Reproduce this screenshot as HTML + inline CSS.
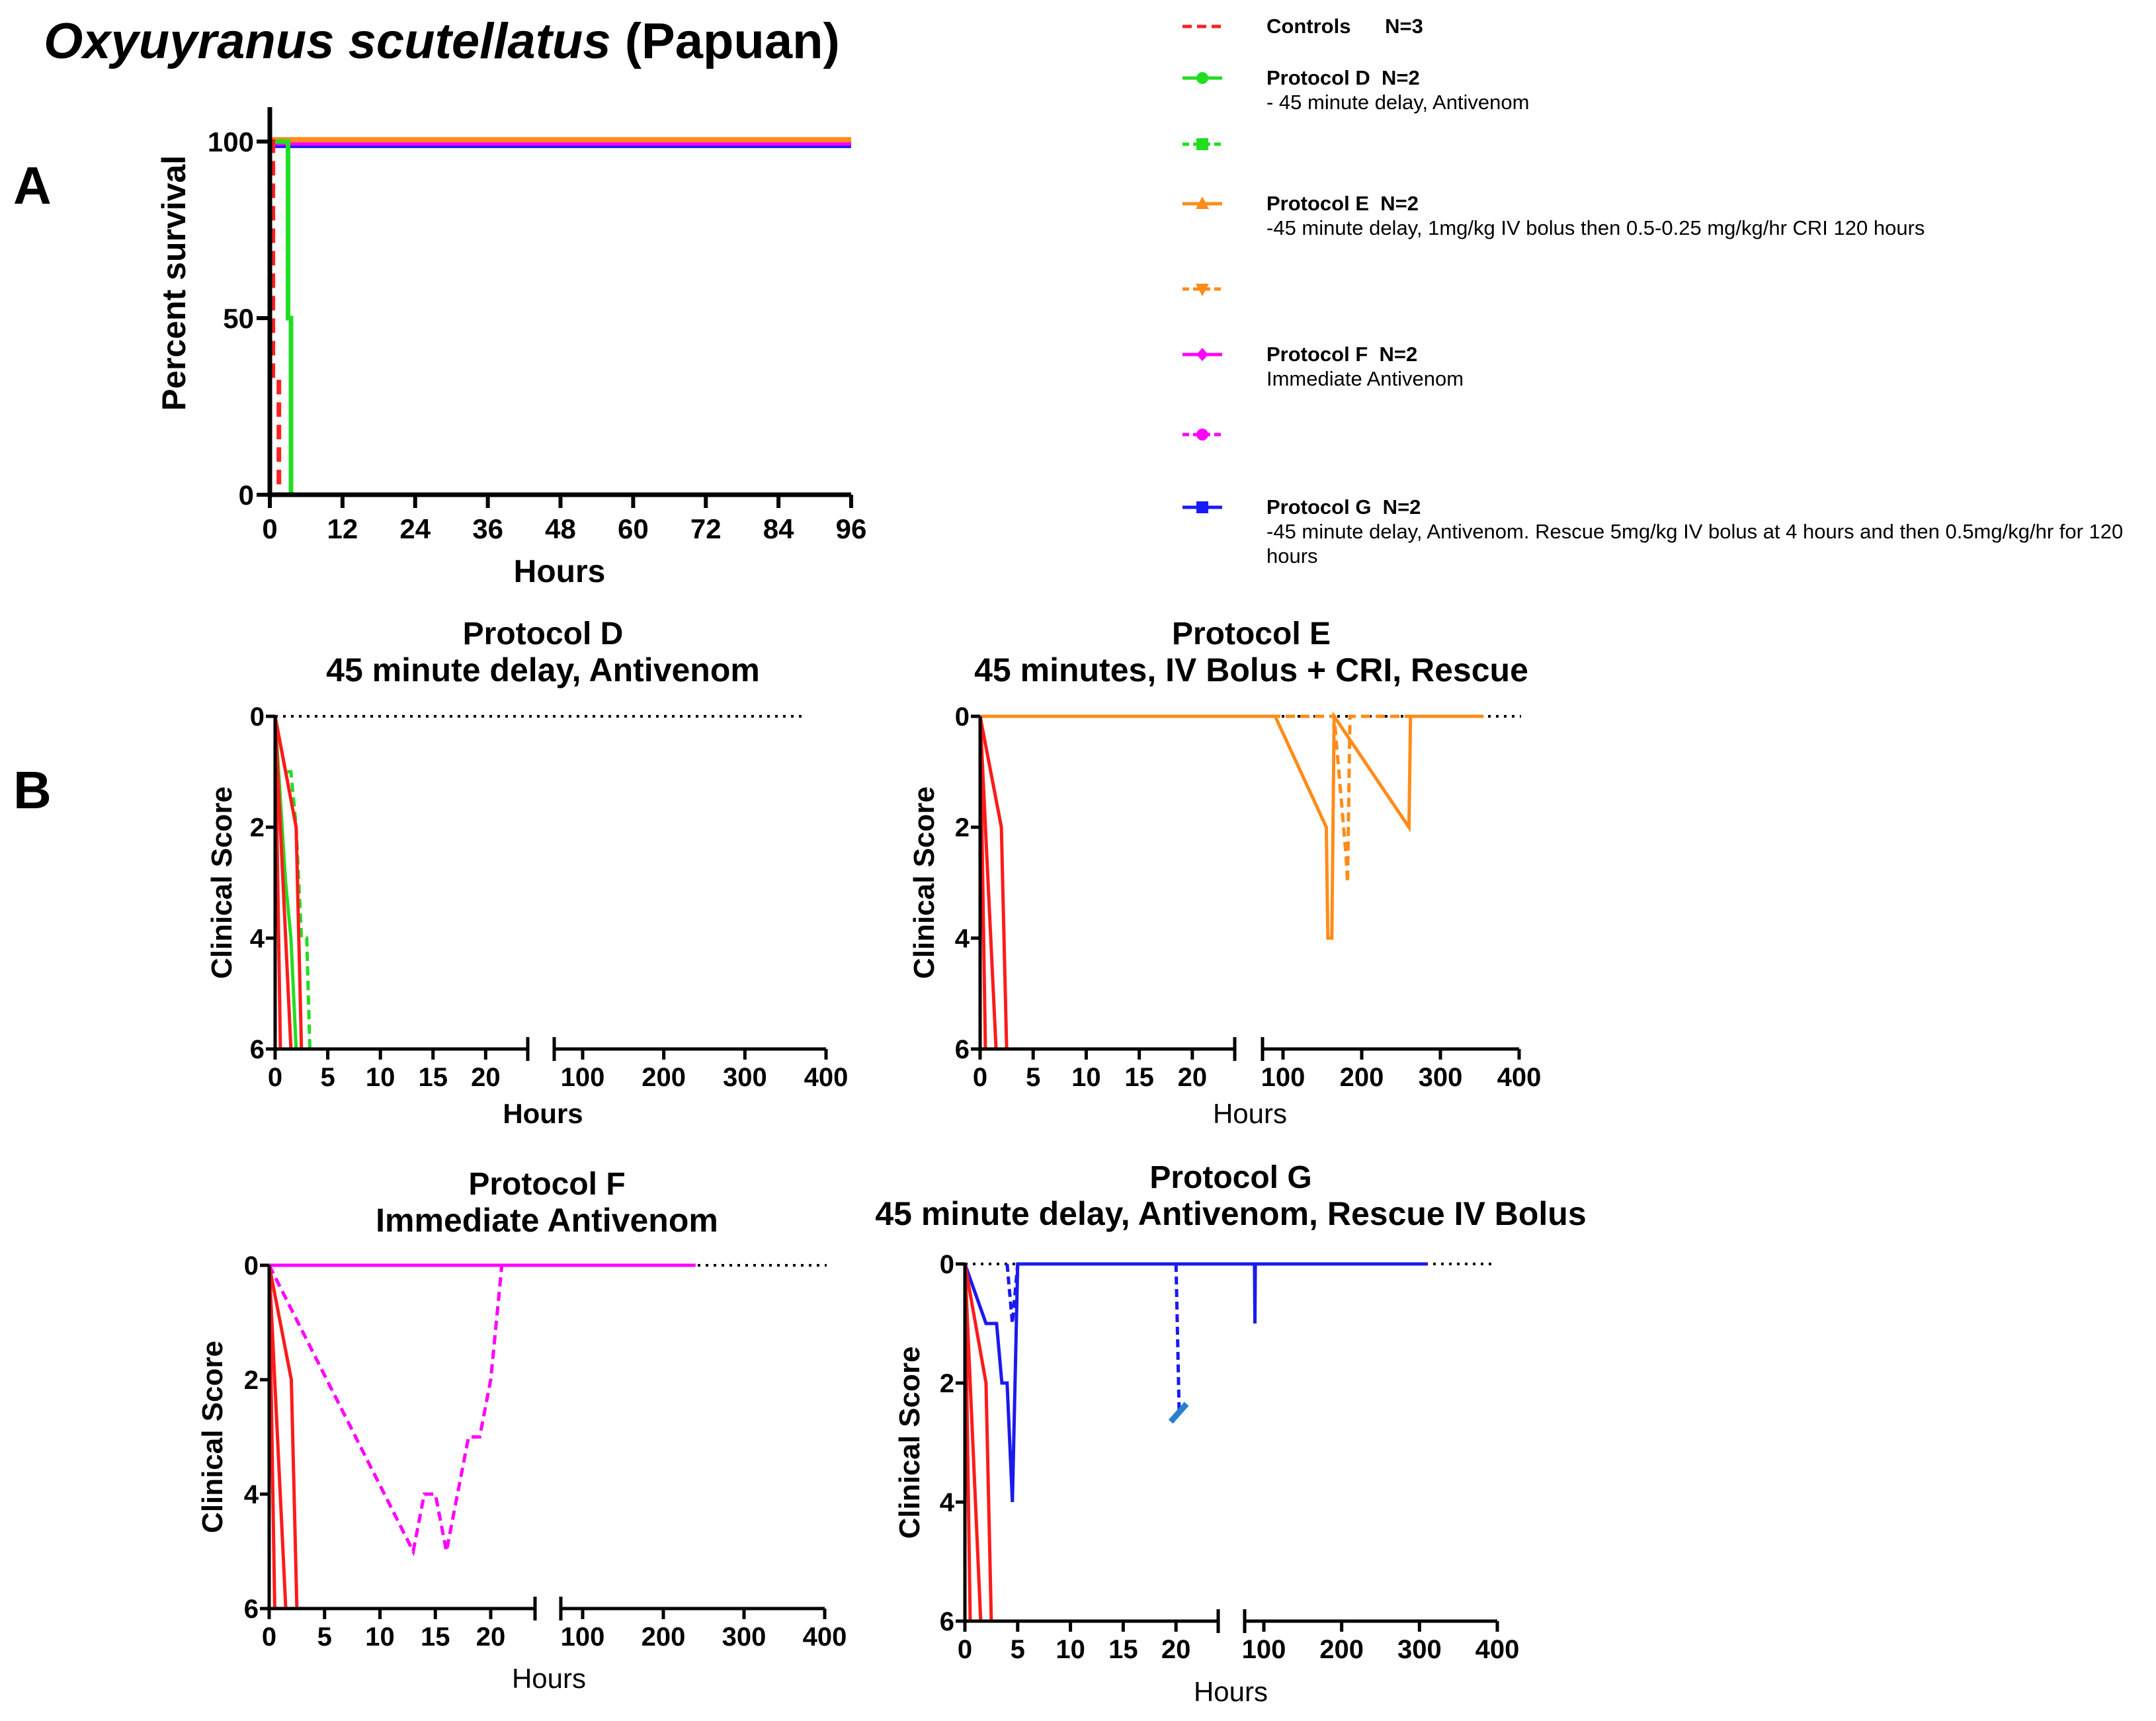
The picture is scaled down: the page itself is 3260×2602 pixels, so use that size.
<!DOCTYPE html>
<html><head><meta charset="utf-8"><style>
html,body{margin:0;padding:0;background:#fff}
svg{display:block}
text{font-family:"Liberation Sans",Arial,sans-serif;white-space:pre}
</style></head><body>
<svg id="fig" width="3260" height="2602" viewBox="0 0 3260 2602" xmlns="http://www.w3.org/2000/svg">
<text x="668" y="88" font-size="76" font-weight="bold" text-anchor="middle"><tspan font-style="italic">Oxyuyranus scutellatus</tspan> (Papuan)</text>
<text x="20" y="308" font-size="80" font-weight="bold">A</text>
<text x="20" y="1222" font-size="80" font-weight="bold">B</text>
<g id="panelA"></g>
<g id="legend"></g>
<g id="pD"></g>
<g id="pE"></g>
<g id="pF"></g>
<g id="pG"></g>
</svg>
<script>
// ---------- data ----------
const survTicksX = [0,12,24,36,48,60,72,84,96];
const survTicksY = [0,50,100];
const survControlsX = [0,0.5,0.5,1.5,1.5];
const survControlsY = [100,100,33,33,0];
const survDX = [0,3,3,3.5,3.5];
const survDY = [100,100,50,50,0];
const survEX = [0,96]; const survEY = [100.5,100.5];
const survFX = [0,96]; const survFY = [99.5,99.5];
const survGX = [0,96]; const survGY = [98.8,98.8];

const scoreTicksY = [0,2,4,6];
const leftTicks = [0,5,10,15,20];
const rightTicks = [100,200,300,400];

const ctrl1X=[0,0.5], ctrl1Y=[0,6];
const ctrl2X=[0,1.5], ctrl2Y=[0,6];
const ctrl3X=[0,2,2.5], ctrl3Y=[0,2,6];

const dDashX=[0,1,1.5,2,2.5,3,3.3], dDashY=[0,1,1,2,4,4,6];
const dSolidX=[0,1,1.5,2], dSolidY=[0,3,4,6];

const eSolidX=[0,24,75,90,155,157,162,165,260,262,355], eSolidY=[0,0,0,0,2,4,4,0,2,0,0];
const eDashX=[0,24,75,165,180,182,185,260], eDashY=[0,0,0,0,2.5,3,0,0];

const fSolidX=[0,24,75,240], fSolidY=[0,0,0,0];
const fDashX=[0,13,14,15,16,18,19,20,21], fDashY=[0,5,4,4,5,3,3,2,0];

const gSolidX=[0,2,3,3.5,4,4.5,5,24,75,88,88.5,89,310], gSolidY=[0,1,1,2,2,4,0,0,0,0,1,0,0];
const gDash1X=[4,4.5,5], gDash1Y=[0,1,0];
const gDash2X=[20,20.3], gDash2Y=[0,2.5];
const gMarkX=[19.5,21], gMarkY=[2.65,2.35];

// ---------- helpers ----------
const NS="http://www.w3.org/2000/svg";
function mk(tag,attrs,parent){const e=document.createElementNS(NS,tag);for(const k in attrs)e.setAttribute(k,attrs[k]);parent.appendChild(e);return e;}
function txt(parent,x,y,s,size,anchor,name,extra){const t=mk('text',Object.assign({x:x,y:y,'font-size':size,'font-weight':'bold','text-anchor':anchor||'middle'},extra||{}),parent);t.textContent=s;


return t;}
function poly(parent,xs,ys,sx,sy,color,width,dash,name){const pts=xs.map((x,i)=>sx(x).toFixed(1)+','+sy(ys[i]).toFixed(1)).join(' ');
const p=mk('polyline',{points:pts,fill:'none',stroke:color,'stroke-width':width,'stroke-linejoin':'miter'},parent);if(dash)p.setAttribute('stroke-dasharray',dash);


return p;}

// ---------- panel A ----------
(function(){
 const g=document.getElementById('panelA');
 const X0=408,X1=1287,Y0=748,Y100=214;
 const sx=v=>X0+(X1-X0)*v/96, sy=v=>Y0-(Y0-Y100)*v/100;
 poly(g,survGX,survGY,sx,sy,'#1a1aff',7,null,'survival-protocol-g');
 poly(g,survFX,survFY,sx,sy,'#ff00ff',7,null,'survival-protocol-f');
 poly(g,survEX,survEY,sx,sy,'#ff8c1a',8,null,'survival-protocol-e');
 poly(g,survDX,survDY,sx,sy,'#22dd22',7,null,'survival-protocol-d');
 poly(g,survControlsX,survControlsY,sx,sy,'#ff2020',7,'22,12','survival-controls');
 const ax=mk('path',{d:`M${X0},162 L${X0},${Y0} L${X1},${Y0}`,fill:'none',stroke:'#000','stroke-width':7},g);
 
 survTicksX.forEach(v=>{mk('line',{x1:sx(v),x2:sx(v),y1:Y0,y2:Y0+20,stroke:'#000','stroke-width':6},g);txt(g,sx(v),Y0+66,String(v),42,'middle','x-tick-label');});
 survTicksY.forEach(v=>{mk('line',{x1:X0-20,x2:X0,y1:sy(v),y2:sy(v),stroke:'#000','stroke-width':6},g);txt(g,X0-24,sy(v)+15,String(v),42,'end','y-tick-label');});
 txt(g,846,880,'Hours',48,'middle','x-axis-title');
 txt(g,280,428,'Percent survival',50,'middle','y-axis-title',{transform:'rotate(-90 280 428)'});
})();

// ---------- legend ----------
(function(){
 const g=document.getElementById('legend');
 const items=[
  {y:40,c:'#ff2020',dash:'14,8',t:['Controls      N=3']},
  {y:118,c:'#22dd22',dash:null,m:'circle',t:['Protocol D  N=2','- 45 minute delay, Antivenom']},
  {y:218,c:'#22dd22',dash:'10,6',m:'square',t:[]},
  {y:308,c:'#ff8c1a',dash:null,m:'tri',t:['Protocol E  N=2','-45 minute delay, 1mg/kg IV bolus then 0.5-0.25 mg/kg/hr CRI 120 hours']},
  {y:437,c:'#ff8c1a',dash:'10,6',m:'itri',t:[]},
  {y:536,c:'#ff00ff',dash:null,m:'diamond',t:['Protocol F  N=2','Immediate Antivenom']},
  {y:657,c:'#ff00ff',dash:'10,6',m:'circle',t:[]},
  {y:767,c:'#1a1aff',dash:null,m:'square',t:['Protocol G  N=2','-45 minute delay, Antivenom. Rescue 5mg/kg IV bolus at 4 hours and then 0.5mg/kg/hr for 120','hours']}
 ];
 items.forEach((it,i)=>{
  const l=mk('line',{x1:1788,x2:1848,y1:it.y,y2:it.y,stroke:it.c,'stroke-width':5},g);
  if(it.dash)l.setAttribute('stroke-dasharray',it.dash);
  
  const cx=1818,cy=it.y;
  if(it.m==='circle')mk('circle',{cx:cx,cy:cy,r:9,fill:it.c},g);
  if(it.m==='square')mk('rect',{x:cx-9,y:cy-9,width:18,height:18,fill:it.c},g);
  if(it.m==='tri')mk('polygon',{points:`${cx},${cy-11} ${cx+10},${cy+8} ${cx-10},${cy+8}`,fill:it.c},g);
  if(it.m==='itri')mk('polygon',{points:`${cx},${cy+11} ${cx+10},${cy-8} ${cx-10},${cy-8}`,fill:it.c},g);
  if(it.m==='diamond')mk('polygon',{points:`${cx},${cy-10} ${cx+9},${cy} ${cx},${cy+10} ${cx-9},${cy}`,fill:it.c},g);
  it.t.forEach((s,j)=>{txt(g,1915,it.y+10+j*37,s,j===0?31:31,'start','legend-text',j===0?{}:{'font-weight':'normal'});});
 });
})();

// ---------- score panels ----------
function scorePanel(id,cfg,series){
 const g=document.getElementById(id);
 const {x0,lEnd,rStart,r100,r400,y0,y6}=cfg;
 const lScale=(lEnd-x0)/24, rScale=(r400-r100)/300, rDomStart=100-(r100-rStart)/rScale;
 const sx=v=>v<=24?x0+v*lScale:(v<rDomStart?rStart:r100+(v-100)*rScale);
 const sy=v=>y0+(y6-y0)*v/6;
 const d=mk('line',{x1:x0,x2:cfg.dotEnd,y1:y0,y2:y0,stroke:'#000','stroke-width':4,'stroke-dasharray':'4,8'},g);
 
 series.forEach(s=>poly(g,s.x,s.y,sx,sy,s.c,s.w||5,s.d,s.n));
 const ax=mk('path',{d:`M${x0},${y0} L${x0},${y6} L${lEnd},${y6} M${lEnd},${y6-18} L${lEnd},${y6+18} M${rStart},${y6-18} L${rStart},${y6+18} M${rStart},${y6} L${r400},${y6}`,fill:'none',stroke:'#000','stroke-width':5},g);
 
 leftTicks.forEach(v=>{mk('line',{x1:sx(v),x2:sx(v),y1:y6,y2:y6+16,stroke:'#000','stroke-width':5},g);txt(g,sx(v),y6+56,String(v),40,'middle','x-tick-label');});
 rightTicks.forEach(v=>{mk('line',{x1:sx(v),x2:sx(v),y1:y6,y2:y6+16,stroke:'#000','stroke-width':5},g);txt(g,sx(v),y6+56,String(v),40,'middle','x-tick-label');});
 scoreTicksY.forEach(v=>{mk('line',{x1:x0-14,x2:x0,y1:sy(v),y2:sy(v),stroke:'#000','stroke-width':5},g);txt(g,x0-16,sy(v)+14,String(v),40,'end','y-tick-label');});
 txt(g,cfg.tx,cfg.t1y,cfg.t1,48,'middle','chart-title');
 txt(g,cfg.tx,cfg.t1y+56,cfg.t2,50,'middle','chart-subtitle');
 txt(g,cfg.hx,cfg.hy,'Hours',42,'middle','x-axis-title',cfg.hBold?{}:{'font-weight':'normal'});
 txt(g,cfg.cx,(y0+y6)/2,'Clinical Score',44,'middle','y-axis-title',{transform:`rotate(-90 ${cfg.cx} ${(y0+y6)/2})`});
}
const red='#ff1a1a';
const ctrls=[{x:ctrl1X,y:ctrl1Y,c:red,n:'controls-line-1'},{x:ctrl2X,y:ctrl2Y,c:red,n:'controls-line-2'},{x:ctrl3X,y:ctrl3Y,c:red,n:'controls-line-3'}];
scorePanel('pD',{x0:416,lEnd:798,rStart:838,r100:881,r400:1249,y0:1083,y6:1586,dotEnd:1220,tx:821,t1y:974,t1:'Protocol D',t2:'45 minute delay, Antivenom',hx:821,hy:1698,hBold:true,cx:350},
 [{x:dDashX,y:dDashY,c:'#22dd22',d:'14,8',n:'protocol-d-dashed'},{x:dSolidX,y:dSolidY,c:'#22dd22',n:'protocol-d-solid'}].concat(ctrls));
scorePanel('pE',{x0:1482,lEnd:1867,rStart:1909,r100:1940,r400:2297,y0:1083,y6:1586,dotEnd:2300,tx:1892,t1y:974,t1:'Protocol E',t2:'45 minutes, IV Bolus + CRI, Rescue',hx:1890,hy:1698,cx:1412},
 [{x:eDashX,y:eDashY,c:'#ff8c1a',d:'14,8',n:'protocol-e-dashed'},{x:eSolidX,y:eSolidY,c:'#ff8c1a',n:'protocol-e-solid'}].concat(ctrls));
scorePanel('pF',{x0:407,lEnd:809,rStart:848,r100:881,r400:1247,y0:1913,y6:2432,dotEnd:1250,tx:827,t1y:1806,t1:'Protocol F',t2:'Immediate Antivenom',hx:830,hy:2552,cx:336},
 [{x:fSolidX,y:fSolidY,c:'#ff00ff',n:'protocol-f-solid'},{x:fDashX,y:fDashY,c:'#ff00ff',d:'14,8',n:'protocol-f-dashed'}].concat(ctrls));
scorePanel('pG',{x0:1459,lEnd:1842,rStart:1882,r100:1911,r400:2264,y0:1911,y6:2451,dotEnd:2260,tx:1861,t1y:1796,t1:'Protocol G',t2:'45 minute delay, Antivenom, Rescue IV Bolus',hx:1861,hy:2572,cx:1390},
 [{x:gSolidX,y:gSolidY,c:'#1a1aee',n:'protocol-g-solid'},{x:gDash1X,y:gDash1Y,c:'#1a1aee',d:'12,7',n:'protocol-g-dashed-1'},{x:gDash2X,y:gDash2Y,c:'#1a1aee',d:'12,7',n:'protocol-g-dashed-2'},{x:gMarkX,y:gMarkY,c:'#2a7fd0',w:9,n:'protocol-g-marker'}].concat(ctrls));
</script>
</body></html>
